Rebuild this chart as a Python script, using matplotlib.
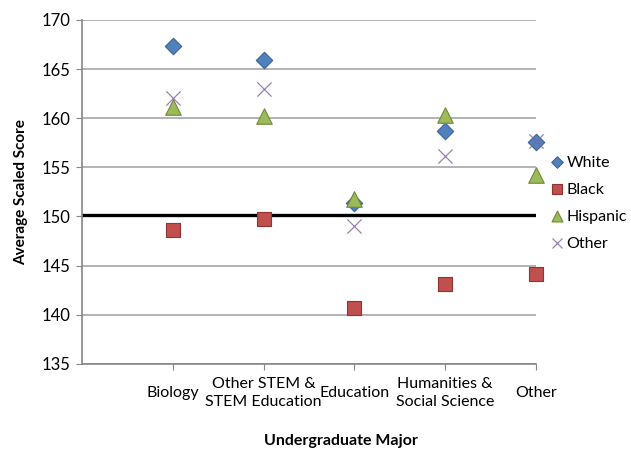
import matplotlib.pyplot as plt

plt.rcParams['font.family'] = ['Lato', 'DejaVu Sans']

# 专业类别与各族群平均成绩
majors = ["Biology", "Other STEM &\nSTEM Education", "Education",
          "Humanities &\nSocial Science", "Other"]
white = [167.3, 165.9, 151.4, 158.7, 157.6]
black = [148.6, 149.7, 140.7, 143.1, 144.2]
hispanic = [161.1, 160.2, 151.8, 160.3, 154.2]
other = [162.0, 163.0, 149.0, 156.2, 157.7]
cut_score = 150.2

fig = plt.figure(figsize=(6.31, 4.51), dpi=100)
ax = fig.add_axes([0.130, 0.193, 0.719, 0.763])

x = list(range(1, len(majors) + 1))

ax.scatter(x, white, marker='D', s=70, color='#4F81BD', edgecolor='#3A6598',
           linewidth=0.8, label='White', zorder=3, clip_on=False)
ax.scatter(x, black, marker='s', s=100, color='#C0504D', edgecolor='#8E3432',
           linewidth=0.8, label='Black', zorder=3, clip_on=False)
ax.scatter(x, hispanic, marker='^', s=125, color='#9BBB59', edgecolor='#6F8A3A',
           linewidth=0.8, label='Hispanic', zorder=3, clip_on=False)
ax.scatter(x, other, marker='x', s=105, color='#8064A2', linewidth=0.9,
           alpha=0.8, label='Other', zorder=4, clip_on=False)

ax.axhline(cut_score, color='black', linewidth=2.4, zorder=2)

ax.set_xlim(0, 5)
ax.set_ylim(135, 170)
ax.set_yticks(range(135, 171, 5))
ax.set_xticks(x)
ax.set_xticklabels(majors, fontsize=11.5, linespacing=1.35)
for lbl in ax.get_xticklabels():
    lbl.set_verticalalignment('center')
ax.tick_params(axis='x', length=4, color='#868686', pad=17)
ax.tick_params(axis='y', length=4, color='#868686', labelsize=12, pad=4)

ax.yaxis.grid(True, color='#A6A6A6', linewidth=1.2)
ax.set_axisbelow(True)
for side in ['top', 'right']:
    ax.spines[side].set_visible(False)
for side in ['left', 'bottom']:
    ax.spines[side].set_color('#868686')
    ax.spines[side].set_linewidth(1.2)

ax.set_ylabel('Average Scaled Score', fontsize=11, fontweight='bold', labelpad=10)
fig.text(341 / 631, 1 - 441 / 451, 'Undergraduate Major', fontsize=11.5,
         fontweight='bold', ha='center', va='center')

fig.legend(*ax.get_legend_handles_labels(), loc='center left',
           bbox_to_anchor=(549 / 631, 1 - 203 / 451), frameon=False,
           fontsize=11.5, handletextpad=0.1, handlelength=1.0, labelspacing=0.8,
           markerscale=0.7, borderaxespad=0, borderpad=0)

fig.savefig('out.png', dpi=100)
